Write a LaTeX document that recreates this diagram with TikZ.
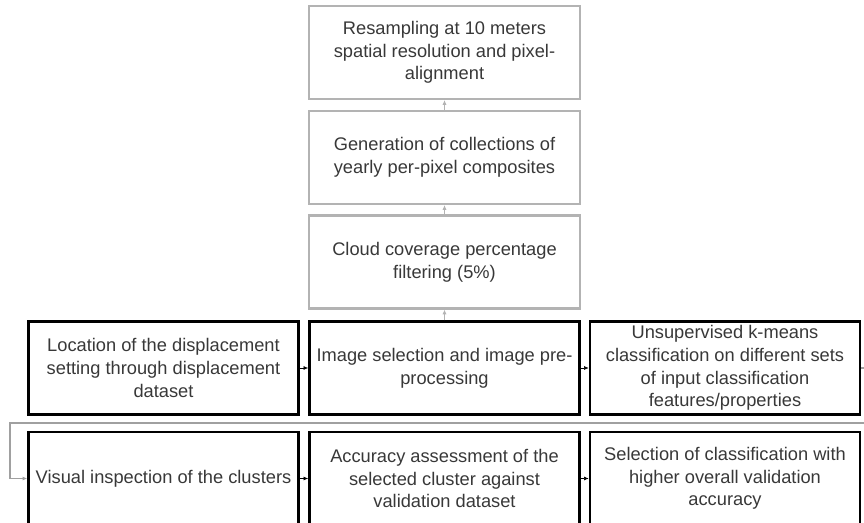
\documentclass[tikz,border=0pt]{standalone}
\usepackage{fontspec}
\setmainfont{Liberation Sans}
\usetikzlibrary{arrows.meta}
\definecolor{boxgray}{HTML}{B3B3B3}
\definecolor{txt}{HTML}{383838}
\definecolor{loopgray}{HTML}{A0A0A0}
\begin{document}
\begin{tikzpicture}[x=0.75pt,y=-0.75pt,
  every node/.style={text=txt, align=center, font=\fontsize{13.7}{17}\selectfont},
  topbox/.style={draw=boxgray, line width=1.9pt, minimum width=203pt, minimum height=69.5pt, inner sep=0pt},
  rowbox/.style={draw=black, line width=1.9pt, minimum width=202.5pt, minimum height=69.5pt, inner sep=0pt},
  uparrow/.style={draw=boxgray, line width=0.6pt, -{Latex[length=3.5pt,width=3pt]}},
  rowarrow/.style={draw=black, line width=0.5pt, -{Latex[length=3.5pt,width=3pt]}},
  loopline/.style={draw=loopgray, line width=0.9pt, -{Latex[length=3.5pt,width=3pt,fill=black]}}
]
\useasboundingbox (0,0) rectangle (864,522);
\node[topbox] (res) at (444.5,52.5) {Resampling at 10 meters\\spatial resolution and pixel-\\alignment};
\node[topbox] (gen) at (444.5,157.5) {Generation of collections of\\yearly per-pixel composites};
\node[topbox] (cloud) at (444.5,262) {Cloud coverage percentage\\filtering (5\%)};
\node[rowbox] (loc) at (163.5,368) {Location of the displacement\\setting through displacement\\dataset};
\node[rowbox] (img) at (444.5,368) {Image selection and image pre-\\processing};
\node[rowbox] (uns) at (725,368) {Unsupervised k-means\\classification on different sets\\of input classification\\features/properties};
\node[rowbox] (vis) at (163.5,478.5) {Visual inspection of the clusters};
\node[rowbox] (acc) at (444.5,478.5) {Accuracy assessment of the\\selected cluster against\\validation dataset};
\node[rowbox] (sel) at (725,478.5) {Selection of classification with\\higher overall validation\\accuracy};
\draw[uparrow] (img.north) -- (cloud.south);
\draw[uparrow] (cloud.north) -- (gen.south);
\draw[uparrow] (gen.north) -- (res.south);
\draw[rowarrow] (loc.east) -- (img.west);
\draw[rowarrow] (img.east) -- (uns.west);
\draw[rowarrow] (vis.east) -- (acc.west);
\draw[rowarrow] (acc.east) -- (sel.west);
\coordinate (r1) at (868,368);
\coordinate (r2) at (868,423);
\coordinate (l1) at (10,423);
\coordinate (l2) at (10,478.5);
\draw[loopline] (uns.east) -- (r1) -- (r2) -- (l1) -- (l2) -- (vis.west);
\end{tikzpicture}
\end{document}
